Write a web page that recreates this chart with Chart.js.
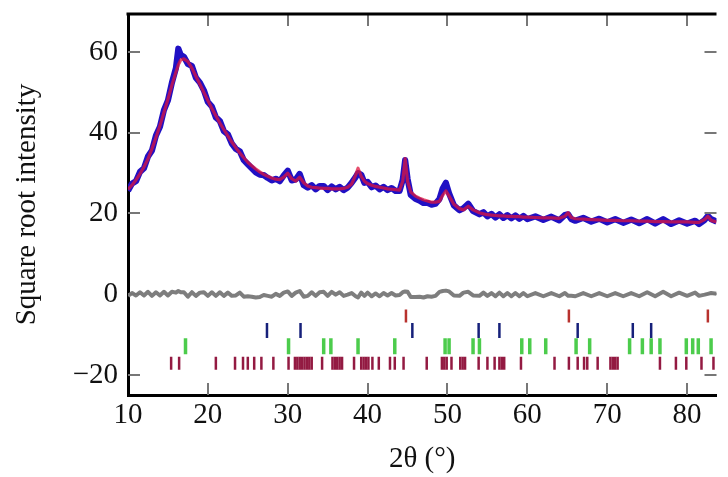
<!DOCTYPE html>
<html>
<head>
<meta charset="utf-8">
<script src="https://cdn.jsdelivr.net/npm/chart.js@4.4.1/dist/chart.umd.min.js"></script>
<style>
  html, body { margin: 0; padding: 0; background: #fff; }
  #wrap { width: 728px; height: 477px; }
</style>
</head>
<body>
<div id="wrap"><canvas id="xrd" width="728" height="477"></canvas></div>
<script>
'use strict';

// 2theta positions of the profile points
const twoTheta = [
  10, 10.5, 11, 11.5, 12, 12.5, 13, 13.5, 14, 14.5,
  15, 15.5, 16, 16.3, 16.6, 17, 17.5, 18, 18.5, 19,
  19.5, 20, 20.5, 21, 21.5, 22, 22.5, 23, 23.5, 24,
  24.5, 25, 25.5, 26, 26.5, 27, 27.5, 28, 28.5, 29,
  29.5, 30, 30.5, 31, 31.5, 32, 32.5, 33, 33.5, 34,
  34.5, 35, 35.5, 36, 36.5, 37, 37.5, 38, 38.5, 38.8,
  39.2, 39.6, 40, 40.5, 41, 41.5, 42, 42.5, 43, 43.5,
  44, 44.4, 44.7, 45, 45.4, 46, 46.5, 47, 47.5, 48,
  48.5, 49, 49.4, 49.8, 50.2, 50.8, 51.5, 52, 52.6, 53.2,
  54, 54.5, 55, 55.5, 56, 56.5, 57, 57.5, 58, 58.5,
  59, 59.5, 60, 61, 62, 63, 64, 64.7, 65.1, 65.5,
  66, 67, 68, 69, 70, 71, 72, 73, 74, 75,
  76, 77, 78, 79, 80, 81, 81.5, 82.2, 82.6, 83, 83.7
];

// observed (square root intensity)
const yObs = [
  25.6, 27.4, 28.0, 30.3, 31.2, 34.1, 35.6, 39.3, 41.5, 45.6,
  48.0, 52.4, 56.0, 60.8, 59.3, 58.8, 57.0, 56.5, 53.6, 52.4,
  50.5, 47.6, 46.5, 43.8, 42.9, 40.4, 39.6, 37.3, 36.0, 35.4,
  33.2, 32.2, 31.2, 30.2, 29.6, 29.5, 28.8, 28.2, 28.6, 28.0,
  29.4, 30.6, 28.2, 28.4, 29.8, 27.0, 26.4, 27.0, 26.0, 26.8,
  26.8, 25.8, 26.7, 26.0, 26.6, 25.8, 26.4, 27.6, 29.0, 30.0,
  29.6, 27.6, 27.8, 26.5, 26.9, 26.0, 26.6, 25.8, 26.3, 25.6,
  25.6, 28.4, 33.2, 28.6, 24.6, 23.6, 23.2, 22.6, 22.6, 22.2,
  22.4, 23.6, 26.2, 27.6, 25.0, 22.0, 20.8, 21.3, 22.4, 20.6,
  19.8, 20.3, 19.3, 19.9, 19.0, 19.8, 18.9, 19.6, 18.8, 19.5,
  18.7, 19.4, 18.6, 19.3, 18.4, 19.2, 18.3, 19.6, 19.8, 18.6,
  18.2, 18.9, 18.0, 18.7, 17.8, 18.6, 17.7, 18.5, 17.6, 18.6,
  17.5, 18.6, 17.4, 18.3, 17.5, 18.2, 17.4, 18.4, 19.4, 18.6, 18.0
];

// calculated profile
const yCalc = [
  26.0, 27.0, 28.3, 29.8, 31.5, 33.5, 36.0, 38.8, 41.8, 45.0,
  48.3, 51.8, 55.0, 56.8, 58.0, 58.3, 57.6, 56.0, 54.0, 52.0,
  50.0, 48.0, 46.0, 44.2, 42.4, 40.8, 39.2, 37.7, 36.3, 35.0,
  33.8, 32.7, 31.8, 31.0, 30.3, 29.7, 29.2, 28.8, 28.5, 28.4,
  29.0, 30.0, 28.6, 28.0, 29.0, 27.6, 26.8, 26.5, 26.4, 26.3,
  26.2, 26.2, 26.1, 26.1, 26.1, 26.2, 26.5, 27.3, 29.5, 31.2,
  29.2, 28.0, 27.4, 27.0, 26.7, 26.5, 26.3, 26.1, 26.0, 25.9,
  25.8, 28.0, 33.6, 28.0, 25.3, 24.3, 23.8, 23.4, 23.1, 22.8,
  22.8, 23.0, 24.5, 25.6, 24.3, 22.3, 21.2, 20.9, 21.8, 20.9,
  20.2, 19.9, 19.7, 19.6, 19.5, 19.4, 19.4, 19.3, 19.3, 19.2,
  19.2, 19.1, 19.1, 19.0, 18.9, 18.9, 18.8, 19.3, 20.2, 19.0,
  18.7, 18.6, 18.5, 18.4, 18.3, 18.3, 18.2, 18.2, 18.1, 18.1,
  18.0, 18.0, 17.9, 17.9, 17.9, 17.8, 17.8, 18.5, 19.3, 18.3, 17.9
];

// difference curve, plotted around zero
const yDiff = [
  -0.4, 0.3, -0.3, 0.5, -0.3, 0.6, -0.4, 0.5, -0.3, 0.6,
  -0.3, 0.6, 0.4, 0.8, 0.5, 0.5, -0.6, 0.5, -0.4, 0.4,
  0.5, -0.4, 0.5, -0.4, 0.5, -0.4, 0.4, -0.4, -0.3, 0.4,
  -0.6, -0.5, -0.6, -0.8, -0.7, -0.2, -0.4, -0.6, 0.1, -0.4,
  0.4, 0.7, -0.4, 0.4, 0.8, -0.6, -0.4, 0.5, -0.4, 0.5,
  0.6, -0.4, 0.6, -0.1, 0.5, -0.4, -0.1, 0.3, -0.5, -0.8,
  0.4, -0.4, 0.4, -0.5, 0.2, -0.5, 0.3, -0.3, 0.3, -0.3,
  -0.2, 0.5, 0.7, 0.6, -0.7, -0.7, -0.6, -0.8, -0.5, -0.6,
  -0.4, 0.6, 0.8, 0.9, 0.7, -0.3, -0.4, 0.4, 0.6, -0.3,
  -0.4, 0.4, -0.4, 0.3, -0.5, 0.4, -0.5, 0.3, -0.5, 0.3,
  -0.5, 0.3, -0.5, 0.3, -0.5, 0.3, -0.5, 0.3, -0.4, -0.4,
  -0.5, 0.3, -0.5, 0.3, -0.5, 0.3, -0.5, 0.3, -0.5, 0.5,
  -0.5, 0.6, -0.5, 0.4, -0.4, 0.4, -0.4, -0.1, 0.1, 0.3, 0.1
];

// Bragg reflection positions per phase, and the row each one sits on
const phaseRed = [44.8, 65.2, 82.6];
const phaseBlue = [27.4, 31.6, 45.6, 53.9, 56.5, 66.3, 73.2, 75.5];
const phaseGreen = [17.2, 30.1, 34.5, 35.4, 38.8, 43.4, 49.7, 50.2, 53.2, 54.0,
  59.3, 60.3, 62.3, 66.1, 67.8, 72.8, 74.4, 75.5, 76.6, 79.9, 80.7, 81.4, 83.0];
const phaseCrimson = [15.4, 16.4, 21.0, 23.4, 24.4, 25.0, 25.8, 26.7, 28.2, 30.1,
  30.9, 31.2, 31.5, 31.8, 32.1, 32.4, 32.7, 33.0, 34.3,
  35.6, 35.9, 36.2, 36.5, 36.8, 38.3, 39.2, 39.5, 39.8, 40.1,
  40.6, 41.4, 42.8, 43.4, 44.5, 47.4, 49.3, 49.6, 49.9, 50.5,
  51.6, 51.9, 52.2, 53.9, 55.0, 55.9, 56.5, 56.8, 57.1,
  59.2, 63.4, 65.2, 66.3, 67.1, 67.5, 68.8, 70.4, 70.7, 71.0, 71.3,
  76.6, 78.6, 79.9, 81.8, 83.3];
const phaseRows = [-5.4, -9.0, -12.9, -17.1];

const xTicks = [10, 20, 30, 40, 50, 60, 70, 80];
const yTicks = [-20, 0, 20, 40, 60];

const X_MIN = 10, X_MAX = 83.68;
const Y_MIN = -24.95, Y_MAX = 69.4;
const FONT = "'Liberation Serif', 'DejaVu Serif', serif";
const FSIZE = 29;

const pts = ys => twoTheta.map((x, i) => ({ x, y: ys[i] }));
const marks = (xs, row) => xs.map(x => ({ x, y: row }));

function curve(label, data, color, width) {
  return {
    label, data,
    showLine: true,
    borderColor: color,
    borderWidth: width,
    borderJoinStyle: 'round',
    pointRadius: 0,
    tension: 0,
  };
}

function tickRow(label, data, color, half, width) {
  return {
    label, data,
    showLine: false,
    pointStyle: 'line',
    pointRotation: 90,
    pointRadius: half,
    pointBorderColor: color,
    pointBackgroundColor: color,
    pointBorderWidth: width,
    pointHoverRadius: half,
  };
}

// drop the extra room Chart.js keeps for edge labels, the frame is fixed
function noPad(s) {
  s.paddingTop = 0; s.paddingBottom = 0;
  s.paddingLeft = 0; s.paddingRight = 0;
}

// inward tick marks on all four sides + top frame line
const frame = {
  id: 'frame',
  afterDatasetsDraw(chart) {
    const { ctx, chartArea: a, scales: { x, y } } = chart;
    ctx.save();
    ctx.strokeStyle = '#777';
    ctx.lineWidth = 2;
    ctx.beginPath();
    xTicks.forEach(v => {
      if (v === X_MIN) return;
      const p = Math.round(x.getPixelForValue(v));
      ctx.moveTo(p, a.bottom); ctx.lineTo(p, a.bottom - 12);
      ctx.moveTo(p, a.top); ctx.lineTo(p, a.top + 12);
    });
    yTicks.forEach(v => {
      const p = Math.round(y.getPixelForValue(v));
      ctx.moveTo(a.left, p); ctx.lineTo(a.left + 12, p);
      ctx.moveTo(a.right, p); ctx.lineTo(a.right - 12, p);
    });
    ctx.stroke();
    ctx.strokeStyle = '#000';
    ctx.lineWidth = 3;
    ctx.beginPath();
    ctx.moveTo(a.left - 1.5, a.top);
    ctx.lineTo(a.right, a.top);
    ctx.stroke();
    ctx.restore();
  }
};

new Chart(document.getElementById('xrd'), {
  type: 'scatter',
  data: {
    datasets: [
      curve('Calculated', pts(yCalc), 'rgba(222,20,62,0.75)', 3.2),
      curve('Observed', pts(yObs), '#2010c4', 6.2),
      curve('Difference', pts(yDiff), '#7e7e7e', 4),
      tickRow('Phase 1', marks(phaseRed, phaseRows[0]), '#b8322e', 6.5, 2.5),
      tickRow('Phase 2', marks(phaseBlue, phaseRows[1]), '#16207a', 7.5, 2.5),
      tickRow('Phase 3', marks(phaseGreen, phaseRows[2]), '#4ccc4c', 8, 3.5),
      tickRow('Phase 4', marks(phaseCrimson, phaseRows[3]), '#931a42', 6.5, 2.5),
    ]
  },
  options: {
    responsive: false,
    animation: false,
    layout: { padding: { top: 14, right: 0, left: 0, bottom: 0 } },
    plugins: {
      legend: { display: false },
      tooltip: { enabled: false },
    },
    scales: {
      x: {
        type: 'linear',
        position: 'bottom',
        min: X_MIN,
        max: X_MAX,
        afterBuildTicks: s => { s.ticks = xTicks.map(v => ({ value: v })); },
        afterFit: s => { s.height = 82; noPad(s); },
        grid: { display: false, drawTicks: false },
        border: { display: true, color: '#000', width: 3 },
        ticks: {
          padding: 3,
          color: '#111',
          maxRotation: 0,
          font: { family: FONT, size: FSIZE },
        },
        title: {
          display: true,
          text: '2θ (°)',
          color: '#111',
          font: { family: FONT, size: FSIZE },
          padding: { top: 0, bottom: 0 },
        },
      },
      y: {
        type: 'linear',
        min: Y_MIN,
        max: Y_MAX,
        afterBuildTicks: s => { s.ticks = yTicks.map(v => ({ value: v })); },
        afterFit: s => { s.width = 128; noPad(s); },
        grid: { display: false, drawTicks: false },
        border: { display: true, color: '#000', width: 3 },
        ticks: {
          padding: 10,
          color: '#111',
          font: { family: FONT, size: FSIZE },
          callback: v => (v < 0 ? '\u2212' + Math.abs(v) : String(v)),
        },
        title: {
          display: true,
          text: 'Square root intensity',
          color: '#111',
          font: { family: FONT, size: FSIZE },
          padding: { top: 10, bottom: 0 },
        },
      },
    },
  },
  plugins: [frame],
});
</script>
</body>
</html>
